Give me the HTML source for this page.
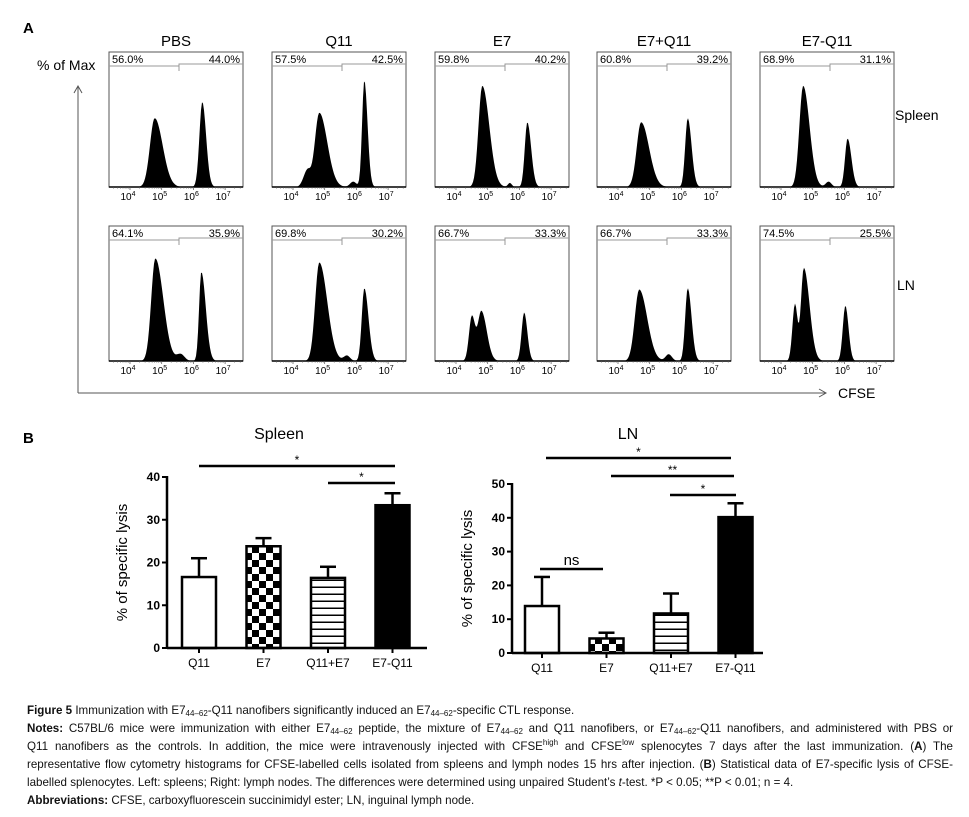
<!DOCTYPE html>
<html><head><meta charset="utf-8"><style>
body{margin:0;background:#fff;width:969px;height:817px;overflow:hidden;font-family:"Liberation Sans",sans-serif}
svg{position:absolute;left:0;top:0}
#cap{position:absolute;left:27px;top:702px;width:926px;font-family:"Liberation Sans Narrow","Liberation Sans",sans-serif;font-size:11.6px;line-height:18px;color:#111}
#cap div{text-align:justify;text-align-last:justify;white-space:nowrap;overflow:hidden}
#cap div.l{text-align-last:left}
sub{font-size:8px;vertical-align:-2px;line-height:0}sup{font-size:8px;vertical-align:5px;line-height:0}
</style></head><body>
<svg id="fig" width="969" height="817" viewBox="0 0 969 817" xmlns="http://www.w3.org/2000/svg">
<defs>
<pattern id="chk" width="14" height="14" patternUnits="userSpaceOnUse"><rect width="14" height="14" fill="#fff"/><rect width="7" height="7" fill="#000"/><rect x="7" y="7" width="7" height="7" fill="#000"/></pattern>
<pattern id="hz" width="10" height="7" patternUnits="userSpaceOnUse"><rect width="10" height="7" fill="#fff"/><rect y="5.5" width="10" height="1.5" fill="#000"/></pattern>
</defs>
<text x="23" y="33" font-size="15" font-weight="bold">A</text>
<text x="37" y="70" font-size="14">% of Max</text>
<g stroke="#555" fill="none" stroke-width="1">
<line x1="78" y1="87" x2="78" y2="393"/><polyline points="74,93 78,86 82,93"/>
<line x1="78" y1="393" x2="826" y2="393"/><polyline points="819,389 826,393 819,397"/>
</g>
<text x="838" y="398" font-size="14">CFSE</text>
<text x="895" y="120" font-size="14">Spleen</text>
<text x="897" y="290" font-size="14">LN</text>
<g id="hists"></g>
<text x="23" y="443" font-size="15" font-weight="bold">B</text>
<g id="bars"></g>
</svg>
<div id="cap">
<div class="l"><b>Figure 5</b> Immunization with E7<sub>44–62</sub>-Q11 nanofibers significantly induced an E7<sub>44–62</sub>-specific CTL response.</div>
<div><b>Notes:</b> C57BL/6 mice were immunization with either E7<sub>44–62</sub> peptide, the mixture of E7<sub>44–62</sub> and Q11 nanofibers, or E7<sub>44–62</sub>-Q11 nanofibers, and administered with PBS or</div>
<div>Q11 nanofibers as the controls. In addition, the mice were intravenously injected with CFSE<sup>high</sup> and CFSE<sup>low</sup> splenocytes 7 days after the last immunization. (<b>A</b>) The</div>
<div>representative flow cytometry histograms for CFSE-labelled cells isolated from spleens and lymph nodes 15 hrs after injection. (<b>B</b>) Statistical data of E7-specific lysis of CFSE-</div>
<div class="l">labelled splenocytes. Left: spleens; Right: lymph nodes. The differences were determined using unpaired Student’s <i>t</i>-test. *P &lt; 0.05; **P &lt; 0.01; n = 4.</div>
<div class="l"><b>Abbreviations:</b> CFSE, carboxyfluorescein succinimidyl ester; LN, inguinal lymph node.</div>
</div>
<script>
const NS='http://www.w3.org/2000/svg';
const groups=['PBS','Q11','E7','E7+Q11','E7-Q11'];
const leftPctSpleen=['56.0%','57.5%','59.8%','60.8%','68.9%'];
const rightPctSpleen=['44.0%','42.5%','40.2%','39.2%','31.1%'];
const leftPctLN=['64.1%','69.8%','66.7%','66.7%','74.5%'];
const rightPctLN=['35.9%','30.2%','33.3%','33.3%','25.5%'];
// peaks: [log10 center, relative height, sigmaLeft, sigmaRight]
const peaksSpleen=[
 [[4.78,0.51,0.15,0.25],[6.28,0.63,0.09,0.12]],
 [[4.83,0.55,0.14,0.25],[4.45,0.12,0.12,0.1],[6.25,0.79,0.07,0.1],[5.9,0.04,0.1,0.1]],
 [[4.83,0.75,0.12,0.22],[6.25,0.48,0.08,0.12],[5.7,0.03,0.06,0.06]],
 [[4.73,0.48,0.14,0.25],[6.2,0.51,0.08,0.12]],
 [[4.7,0.75,0.12,0.2],[6.1,0.36,0.08,0.12],[5.5,0.04,0.09,0.09]]];
const peaksLN=[
 [[4.8,0.76,0.13,0.25],[5.6,0.05,0.12,0.12],[6.25,0.66,0.07,0.14]],
 [[4.83,0.73,0.13,0.25],[6.25,0.54,0.08,0.13],[5.7,0.04,0.1,0.1]],
 [[4.5,0.33,0.09,0.1],[4.8,0.37,0.11,0.17],[6.15,0.36,0.08,0.1]],
 [[4.67,0.53,0.14,0.25],[6.2,0.54,0.08,0.12],[5.6,0.05,0.1,0.1]],
 [[4.44,0.42,0.08,0.08],[4.72,0.69,0.09,0.18],[6.03,0.41,0.08,0.1]]];
const tickExp=[4,5,6,7];

function mk(tag,attrs,parent,text){const e=document.createElementNS(NS,tag);for(const k in attrs)e.setAttribute(k,attrs[k]);if(text!==undefined)e.textContent=text;parent.appendChild(e);return e;}
const H=document.getElementById('hists');
const colX=[109,272,435,597,760],BW=134,BH=135;
function hist(x0,top,peaks,lp,rp,name){
 const g=mk('g',{},H);
 
 
 const base=top+BH;
 const xs=l=>x0+21+(l-4)*31.7;
 let d='M'+x0+','+base;
 for(let px=0;px<=BW;px++){const l=4+(px-21)/31.7;let v=0;
  for(const p of peaks){const s=l<p[0]?p[2]:p[3];v+=p[1]*Math.exp(-0.5*((l-p[0])/s)**2);}
  d+=' L'+(x0+px)+','+(base-v*BH).toFixed(1);}
 d+=' L'+(x0+BW)+','+base+' Z';
 const c=mk('path',{d:d,fill:'#000'},g);
 
 
 mk('rect',{x:x0,y:top,width:BW,height:BH,fill:'none',stroke:'#555','stroke-width':1},g);
 mk('line',{x1:x0,y1:base,x2:x0+BW,y2:base,stroke:'#000','stroke-width':1.5},g);
 const sx=x0+70;
 mk('polyline',{points:`${x0},${top+14} ${sx},${top+14}`,stroke:'#999',fill:'none'},g);
 mk('polyline',{points:`${sx},${top+19} ${sx},${top+12} ${x0+BW},${top+12}`,stroke:'#999',fill:'none'},g);
 mk('text',{x:x0+3,y:top+11,'font-size':11},g,lp);
 mk('text',{x:x0+BW-3,y:top+11,'font-size':11,'text-anchor':'end'},g,rp);
 for(let e=3;e<=7;e++)for(let m=1;m<10;m++){const xx=xs(e+Math.log10(m));if(xx<x0||xx>x0+BW)continue;
  mk('line',{x1:xx,y1:base,x2:xx,y2:base+(m==1?3:1.5),stroke:'#555','stroke-width':0.7},g);}
 tickExp.forEach(e=>{const t=mk('text',{x:xs(e)-2,y:base+13,'font-size':10,'text-anchor':'middle'},g,'10');mk('tspan',{'font-size':7,dy:-4},t,String(e));});
}
groups.forEach((gname,i)=>{
 const t=mk('text',{x:colX[i]+BW/2,y:46,'font-size':15,'text-anchor':'middle'},H,gname);
 
 
 hist(colX[i],52,peaksSpleen[i],leftPctSpleen[i],rightPctSpleen[i],'histogram-spleen-'+gname.toLowerCase());
 hist(colX[i],226,peaksLN[i],leftPctLN[i],rightPctLN[i],'histogram-ln-'+gname.toLowerCase());
});

// Bar charts
const barCats=['Q11','E7','Q11+E7','E7-Q11'];
const spleenVals=[16.6,23.8,16.4,33.4];
const spleenErr=[4.4,1.9,2.6,2.8];
const lnVals=[13.9,4.3,11.7,40.2];
const lnErr=[8.6,1.7,5.9,4.1];
const spleenTicks=[0,10,20,30,40];
const lnTicks=[0,10,20,30,40,50];
const fills=['#fff','url(#chk)','url(#hz)','#000'];
const B=document.getElementById('bars');
function barChart(o){
 const g=mk('g',{},B);
 
 
 const y=v=>o.y0-(v/o.max)*(o.y0-o.yTop);
 const xc=i=>o.xStart+i*o.step;
 const tt=mk('text',{x:o.titleX,y:439,'font-size':16,'text-anchor':'middle'},g,o.title);
 
 
 const yt=mk('text',{transform:`translate(${o.ax-40},${(o.y0+o.yTop)/2}) rotate(-90)`,'font-size':15,'text-anchor':'middle'},g,'% of specific lysis');
 
 
 o.vals.forEach((v,i)=>{
  const cx=xc(i),top=y(v),et=y(v+o.err[i]);
  mk('line',{x1:cx,y1:top,x2:cx,y2:et,stroke:'#000','stroke-width':2.5},g);
  mk('line',{x1:cx-8,y1:et,x2:cx+8,y2:et,stroke:'#000','stroke-width':2.5},g);
  const r=mk('rect',{x:cx-17,y:top,width:34,height:o.y0-top,fill:fills[i],stroke:'#000','stroke-width':2.5},g);
  
  
  mk('line',{x1:cx,y1:o.y0,x2:cx,y2:o.y0+5,stroke:'#000','stroke-width':2},g);
  mk('text',{x:cx,y:o.y0+19,'font-size':12,'text-anchor':'middle'},g,barCats[i]);
 });
 mk('line',{x1:o.ax,y1:o.yTop-1,x2:o.ax,y2:o.y0+1,stroke:'#000','stroke-width':2.5},g);
 mk('line',{x1:o.ax,y1:o.y0,x2:o.axEnd,y2:o.y0,stroke:'#000','stroke-width':2.5},g);
 o.ticks.forEach(t=>{mk('line',{x1:o.ax-5,y1:y(t),x2:o.ax,y2:y(t),stroke:'#000','stroke-width':2},g);
  mk('text',{x:o.ax-7,y:y(t)+4,'font-size':12,'font-weight':'bold','text-anchor':'end'},g,String(t));});
 o.sig.forEach(s=>{mk('line',{x1:s[0],y1:s[2],x2:s[1],y2:s[2],stroke:'#000','stroke-width':2.5},g);
  mk('text',{x:(s[0]+s[1])/2,y:s[2]-(s[3]=='ns'?4:2),'font-size':s[3]=='ns'?15:12,'text-anchor':'middle'},g,s[3]);});
}
barChart({name:'spleen-bar-chart',title:'Spleen',titleX:279,ax:167,axEnd:427,y0:648,yTop:477,max:40,xStart:199,step:64.5,vals:spleenVals,err:spleenErr,ticks:spleenTicks,
 sig:[[199,395,466,'*'],[328,395,483,'*']]});
barChart({name:'ln-bar-chart',title:'LN',titleX:628,ax:512,axEnd:763,y0:653,yTop:484,max:50,xStart:542,step:64.5,vals:lnVals,err:lnErr,ticks:lnTicks,
 sig:[[546,731,458,'*'],[611,734,476,'**'],[670,736,495,'*'],[540,603,569,'ns']]});
</script>
</body></html>
